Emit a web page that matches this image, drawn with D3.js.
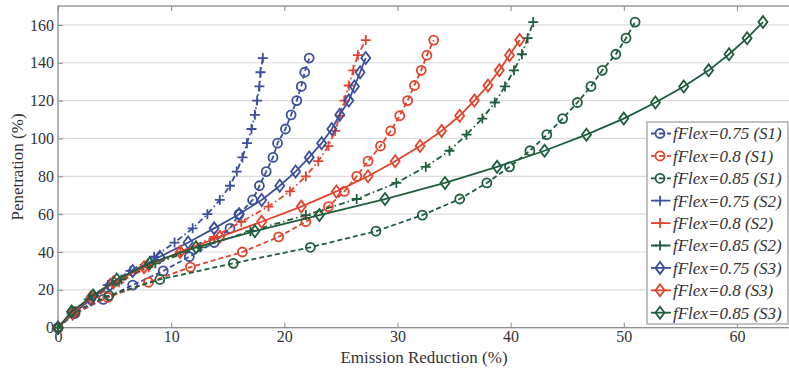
<!DOCTYPE html>
<html>
<head>
<meta charset="utf-8">
<script src="https://cdn.jsdelivr.net/npm/d3@7"></script>
<style>
  body { margin: 0; background: #fff; }
</style>
</head>
<body>
<div id="chart"></div>
<script>
// penetration levels (%) for each fFlex value
var penetration075 = [0, 7.5, 15, 22.5, 30, 37.5, 45, 52.5, 60, 67.5, 75, 82.5, 90, 97.5, 105, 112.5, 120, 127.5, 135, 142.5];
var penetration080 = [0, 8, 16, 24, 32, 40, 48, 56, 64, 72, 80, 88, 96, 104, 112, 120, 128, 136, 144, 152];
var penetration085 = [0, 8.5, 17, 25.5, 34, 42.5, 51, 59.5, 68, 76.5, 85, 93.5, 102, 110.5, 119, 127.5, 136, 144.5, 153, 161.5];

// emission reduction (%) per series
var reductionS1_075 = [0, 1.5, 4.0, 6.6, 9.3, 11.6, 13.8, 15.2, 16.0, 17.2, 17.8, 18.4, 19.0, 19.4, 20.1, 20.6, 21.1, 21.5, 21.8, 22.2];
var reductionS1_080 = [0, 1.5, 4.4, 8.0, 11.7, 16.3, 19.5, 21.9, 23.9, 25.3, 26.4, 27.4, 28.5, 29.4, 30.2, 30.9, 31.5, 32.1, 32.6, 33.2];
var reductionS1_085 = [0, 1.5, 4.5, 9.0, 15.5, 22.3, 28.1, 32.2, 35.5, 37.9, 39.9, 41.7, 43.2, 44.6, 45.9, 47.1, 48.1, 49.3, 50.2, 51.0];
var reductionS2_075 = [0, 1.2, 2.7, 4.4, 6.4, 8.5, 10.3, 11.9, 13.2, 14.3, 15.2, 15.8, 16.3, 16.7, 17.1, 17.4, 17.6, 17.8, 17.9, 18.1];
var reductionS2_080 = [0, 1.4, 3.2, 5.4, 8.0, 10.8, 13.8, 16.2, 18.6, 20.5, 21.9, 23.0, 23.9, 24.5, 24.9, 25.3, 25.7, 26.1, 26.5, 27.2];
var reductionS2_085 = [0, 1.4, 3.2, 5.6, 8.6, 12.6, 17.0, 21.9, 26.4, 29.9, 32.5, 34.6, 36.1, 37.5, 38.6, 39.5, 40.3, 41.0, 41.5, 42.0];
var reductionS3_075 = [0, 1.3, 2.9, 4.6, 6.6, 9.0, 11.5, 13.8, 16.0, 18.0, 19.6, 21.0, 22.2, 23.3, 24.2, 24.9, 25.7, 26.2, 26.7, 27.2];
var reductionS3_080 = [0, 1.3, 2.9, 4.9, 7.6, 10.8, 14.3, 18.0, 21.5, 24.6, 27.4, 29.8, 32.0, 33.9, 35.5, 36.8, 38.0, 39.0, 39.9, 40.8];
var reductionS3_085 = [0, 1.2, 3.1, 5.2, 8.1, 12.2, 17.4, 23.1, 28.9, 34.2, 38.8, 43.0, 46.7, 50.0, 52.8, 55.3, 57.5, 59.3, 60.9, 62.3];

var seriesLabels = ["fFlex=0.75 (S1)", "fFlex=0.8 (S1)", "fFlex=0.85 (S1)",
                    "fFlex=0.75 (S2)", "fFlex=0.8 (S2)", "fFlex=0.85 (S2)",
                    "fFlex=0.75 (S3)", "fFlex=0.8 (S3)", "fFlex=0.85 (S3)"];
var xTicks = [0, 10, 20, 30, 40, 50, 60];
var yTicks = [0, 20, 40, 60, 80, 100, 120, 140, 160];

var colors = ["#3c4f9e", "#e2432c", "#1f5d3c"];
var dashes = {S1: "5,3", S2: "6,3,1.5,3", S3: null};
var serif = "Liberation Serif";

var series = [
  {name: seriesLabels[0], x: reductionS1_075, y: penetration075, c: 0, s: "S1"},
  {name: seriesLabels[1], x: reductionS1_080, y: penetration080, c: 1, s: "S1"},
  {name: seriesLabels[2], x: reductionS1_085, y: penetration085, c: 2, s: "S1"},
  {name: seriesLabels[3], x: reductionS2_075, y: penetration075, c: 0, s: "S2"},
  {name: seriesLabels[4], x: reductionS2_080, y: penetration080, c: 1, s: "S2"},
  {name: seriesLabels[5], x: reductionS2_085, y: penetration085, c: 2, s: "S2"},
  {name: seriesLabels[6], x: reductionS3_075, y: penetration075, c: 0, s: "S3"},
  {name: seriesLabels[7], x: reductionS3_080, y: penetration080, c: 1, s: "S3"},
  {name: seriesLabels[8], x: reductionS3_085, y: penetration085, c: 2, s: "S3"}
];

var width = 789, height = 369;
var margin = {top: 6, left: 58};

var svg = d3.select("#chart").append("svg")
  .attr("width", width)
  .attr("height", height);

var x = d3.scaleLinear().domain([0, 65]).range([margin.left, 793.5]);
var y = d3.scaleLinear().domain([0, 170]).range([327.7, margin.top]);

// grid
svg.append("g").selectAll("line")
  .data(yTicks.slice(1))
  .enter().append("line")
  .attr("x1", x(0)).attr("x2", x(65))
  .attr("y1", function(d) { return y(d); })
  .attr("y2", function(d) { return y(d); })
  .attr("stroke", "#dcdcdc").attr("stroke-width", 1.2);

// axes with inward ticks (matlab style)
var axisStyle = function(g) {
  g.attr("font-family", serif).attr("font-size", 16);
  g.select(".domain").remove();
  g.selectAll(".tick line").attr("stroke", "#888");
  g.selectAll(".tick text").attr("fill", "#333");
};

svg.append("g").attr("transform", "translate(0," + y(0) + ")")
  .call(d3.axisBottom(x).tickValues(xTicks).tickSize(-5).tickPadding(3).tickFormat(d3.format("d")))
  .call(axisStyle);
svg.append("g").attr("transform", "translate(0," + y(170) + ")")
  .call(d3.axisTop(x).tickValues(xTicks).tickSize(-5).tickFormat(""))
  .call(axisStyle);
svg.append("g").attr("transform", "translate(" + x(0) + ",0)")
  .call(d3.axisLeft(y).tickValues(yTicks).tickSize(-5).tickPadding(4).tickFormat(d3.format("d")))
  .call(axisStyle);

svg.append("rect")
  .attr("x", x(0)).attr("y", y(170))
  .attr("width", x(65) - x(0)).attr("height", y(0) - y(170))
  .attr("fill", "none").attr("stroke", "#8a8a8a").attr("stroke-width", 1.3);

// axis titles
svg.append("text")
  .attr("x", 424).attr("y", 363)
  .attr("text-anchor", "middle")
  .attr("font-family", serif).attr("font-size", 17)
  .attr("fill", "#333")
  .text("Emission Reduction (%)");
svg.append("text")
  .attr("transform", "translate(23,167) rotate(-90)")
  .attr("text-anchor", "middle")
  .attr("font-family", serif).attr("font-size", 17)
  .attr("fill", "#333")
  .text("Penetration (%)");

function drawMarker(g, s, color, cx, cy) {
  if (s === "S1") {
    g.append("circle").attr("cx", cx).attr("cy", cy).attr("r", 4.5)
      .attr("fill", "none").attr("stroke", color).attr("stroke-width", 1.8);
  } else if (s === "S2") {
    g.append("path").attr("d", "M" + (cx - 5) + "," + cy + "h10M" + cx + "," + (cy - 5) + "v10")
      .attr("stroke", color).attr("stroke-width", 1.8);
  } else {
    g.append("path").attr("d", "M" + cx + "," + (cy - 6) + "l4.5,6l-4.5,6l-4.5,-6z")
      .attr("fill", "none").attr("stroke", color).attr("stroke-width", 1.8);
  }
}

var line = d3.line()
  .x(function(d) { return x(d[0]); })
  .y(function(d) { return y(d[1]); });

var plot = svg.append("g");
series.forEach(function(sr) {
  var pts = sr.x.map(function(v, i) { return [v, sr.y[i]]; });
  var color = colors[sr.c];
  plot.append("path")
    .datum(pts)
    .attr("d", line)
    .attr("fill", "none")
    .attr("stroke", color)
    .attr("stroke-width", 1.8)
    .attr("stroke-dasharray", dashes[sr.s]);
  pts.forEach(function(p) {
    drawMarker(plot, sr.s, color, x(p[0]), y(p[1]));
  });
});

// legend
var legend = svg.append("g");
legend.append("rect")
  .attr("x", 647).attr("y", 122).attr("width", 141).attr("height", 202)
  .attr("fill", "#fff").attr("stroke", "#999").attr("stroke-width", 1.2);

series.forEach(function(sr, i) {
  var ly = 133.5 + i * 22.4;
  var color = colors[sr.c];
  legend.append("line")
    .attr("x1", 651).attr("x2", 671).attr("y1", ly).attr("y2", ly)
    .attr("stroke", color).attr("stroke-width", 1.8)
    .attr("stroke-dasharray", dashes[sr.s]);
  drawMarker(legend, sr.s, color, 660, ly);
  legend.append("text")
    .attr("x", 673).attr("y", ly).attr("dy", "0.35em")
    .attr("font-family", serif).attr("font-size", 17).attr("font-style", "italic")
    .attr("fill", "#333")
    .text(sr.name);
});
</script>
</body>
</html>
